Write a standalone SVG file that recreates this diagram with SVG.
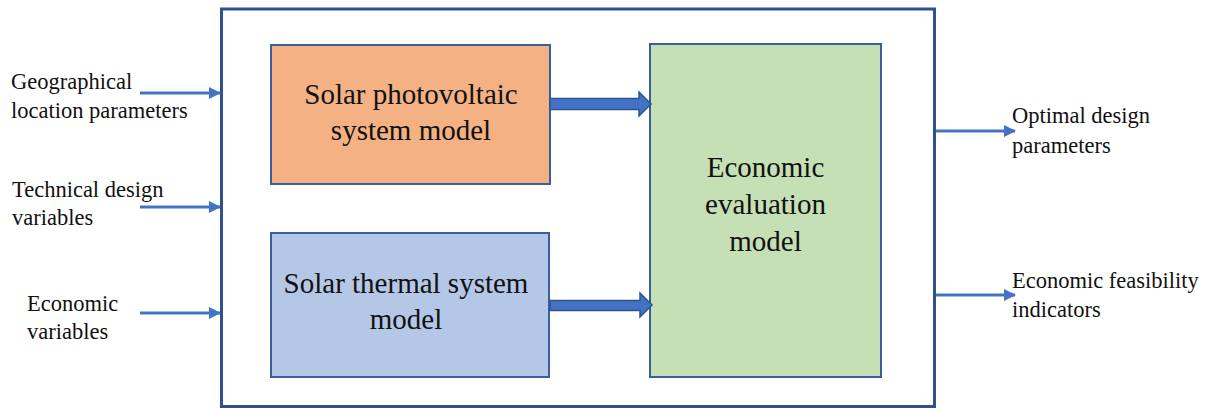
<svg xmlns="http://www.w3.org/2000/svg" width="1215" height="409" viewBox="0 0 1215 409">
<defs>
<style>
.lbl{font-size:22.5px;fill:#111}
.box{font-size:29px;fill:#111;text-anchor:middle}
.node{stroke:#3A5F9E;stroke-width:2}
.conn{stroke:#4472C4;stroke-width:3;fill:none}
.blk{fill:#4472C4;stroke:#2F528F;stroke-width:1.5}
</style>
<marker id="ah" markerWidth="12" markerHeight="12" refX="11" refY="6" orient="auto" markerUnits="userSpaceOnUse">
<path d="M0,0 L12,6 L0,12 Z" fill="#4472C4"/>
</marker>
</defs>
<rect width="1215" height="409" fill="#fff"/>
<g id="outer">
<rect x="221.5" y="9" width="713" height="397.5" fill="#fff" stroke="#2F528F" stroke-width="3"/>
</g>
<g font-family="Liberation Serif, DejaVu Serif, serif">
<g id="pv">
<rect class="node" x="271" y="45" width="279" height="139" fill="#F4B183"/>
<text class="box" x="411" y="104">Solar photovoltaic</text>
<text class="box" x="411" y="140">system model</text>
</g>
<g id="thermal">
<rect class="node" x="271" y="233" width="278" height="144" fill="#B4C7E7"/>
<text class="box" x="406" y="293">Solar thermal system</text>
<text class="box" x="406" y="329">model</text>
</g>
<g id="econ">
<rect class="node" x="650" y="44" width="231" height="333" fill="#C5E0B4"/>
<text class="box" x="765.5" y="177">Economic</text>
<text class="box" x="765.5" y="214">evaluation</text>
<text class="box" x="765.5" y="251">model</text>
</g>
<g id="inputs">
<text class="lbl" x="11" y="89">Geographical</text>
<text class="lbl" x="11" y="118">location parameters</text>
<text class="lbl" x="12" y="197">Technical design</text>
<text class="lbl" x="12" y="225">variables</text>
<text class="lbl" x="27" y="311">Economic</text>
<text class="lbl" x="27" y="339">variables</text>
</g>
<g id="outputs">
<text class="lbl" x="1012" y="123">Optimal design</text>
<text class="lbl" x="1012" y="153">parameters</text>
<text class="lbl" x="1012" y="288">Economic feasibility</text>
<text class="lbl" x="1012" y="317">indicators</text>
</g>
</g>
<g id="connectors">
<line class="conn" x1="140" y1="93" x2="220" y2="93" marker-end="url(#ah)"/>
<line class="conn" x1="140" y1="207" x2="220" y2="207" marker-end="url(#ah)"/>
<line class="conn" x1="140" y1="313" x2="220" y2="313" marker-end="url(#ah)"/>
<line class="conn" x1="936" y1="131" x2="1015" y2="131" marker-end="url(#ah)"/>
<line class="conn" x1="936" y1="295" x2="1015" y2="295" marker-end="url(#ah)"/>
<path class="blk" d="M550,98.5 L639,98.5 L639,92 L651,104 L639,116 L639,109.5 L550,109.5 Z"/>
<path class="blk" d="M550,300.5 L640,300.5 L640,293 L652,305 L640,317 L640,310.5 L550,310.5 Z"/>
</g>
</svg>
